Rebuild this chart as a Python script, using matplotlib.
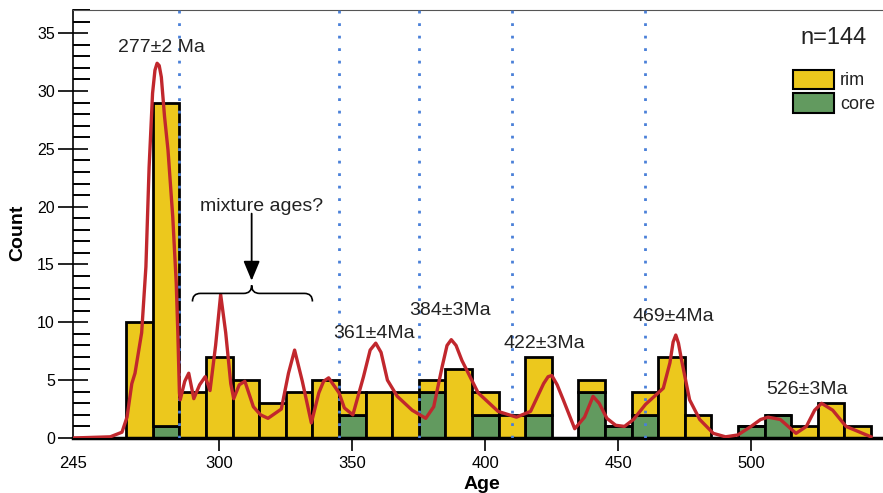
import matplotlib
matplotlib.use('Agg')
import matplotlib.pyplot as plt
from matplotlib.patches import Rectangle, PathPatch
from matplotlib.path import Path
from matplotlib.ticker import MultipleLocator

plt.rcParams['font.family'] = ['Liberation Sans', 'DejaVu Sans']

# histogram bins (10 Ma wide), counts
bin_left = [265, 275, 285, 295, 305, 315, 325, 335, 345, 355, 365, 375, 385, 395,
            405, 415, 425, 435, 445, 455, 465, 475, 485, 495, 505, 515, 525, 535]
total = [10, 29, 4, 7, 5, 3, 4, 5, 4, 4, 4, 5, 6, 4,
         2, 7, 0, 5, 1, 4, 7, 2, 0, 1, 2, 1, 3, 1]
core = [0, 1, 0, 0, 0, 0, 0, 0, 2, 0, 0, 4, 0, 2,
        0, 2, 0, 4, 1, 2, 0, 0, 0, 1, 2, 0, 0, 0]
rim = [t - c for t, c in zip(total, core)]

# probability density curve (scaled to counts)
kde_x = [245, 259, 263.4, 265.3, 267.1, 268.3, 270.8, 272.4, 273.6, 274.9, 275.8, 276.6,
         277.4, 278.2, 279.4, 280.7, 282.5, 283.8, 284.4, 285.0, 285.3, 287.0, 288.5,
         290.4, 292.6, 294.7, 296.5, 298.6, 300.5, 302.4, 304.3, 305.4, 307.5, 309.6,
         312.8, 315.5, 318.3, 323.3, 326.0, 328.3, 331.2, 334.6, 337.4, 339.2, 341.1,
         345.0, 347.0, 350.2, 354.2, 356.7, 358.8, 360.8, 363.2, 366.9, 372.5, 377.6,
         380.6, 383.8, 385.6, 387.2, 389.0, 391.2, 397.3, 404.8, 411.7, 417.0, 421.9,
         423.6, 425.0, 427.0, 429.3, 433.6, 437.3, 440.5, 442.8, 445.7, 449.0, 452.3,
         455.7, 460.2, 466.9, 469.4, 470.6, 471.6, 472.6, 473.8, 476.8, 480.6, 485.7,
         490.3, 494.9, 499.9, 503.5, 506.3, 510.9, 516.8, 520.7, 523.8, 526.4, 530.6,
         535.6, 543.3, 545.0]
kde_y = [0.0, 0.1, 0.5, 1.8, 4.7, 5.6, 9.1, 14.8, 23.4, 29.8, 31.8, 32.4,
         32.2, 31.2, 27.8, 24.9, 19.1, 13.4, 9.1, 3.9, 3.3, 4.9, 5.6,
         3.4, 4.6, 5.3, 4.1, 8.0, 12.4, 9.1, 4.7, 3.4, 4.6, 4.9,
         2.7, 2.0, 1.7, 2.5, 5.6, 7.6, 4.9, 1.3, 3.9, 4.9, 5.2,
         3.9, 2.6, 2.0, 5.3, 7.6, 8.2, 7.4, 5.0, 3.6, 2.4, 1.7,
         2.7, 6.2, 8.0, 8.5, 8.0, 6.7, 3.9, 2.3, 1.8, 2.3, 4.7,
         5.3, 5.4, 4.6, 3.3, 0.8, 1.8, 3.6, 3.0, 1.7, 1.1, 1.0,
         1.6, 2.9, 4.3, 6.5, 8.3, 8.9, 8.2, 6.7, 3.3, 1.6, 0.4,
         0.1, 0.26, 1.0, 1.6, 1.8, 1.6, 0.4, 1.0, 2.4, 3.0, 2.4,
         1.0, 0.26, 0.1]

peak_lines = [285, 345, 375, 410, 460]
peak_labels = ['277\u00b12 Ma', '361\u00b14Ma', '384\u00b13Ma', '422\u00b13Ma', '469\u00b14Ma', '526\u00b13Ma']
label_x = [278.1, 358.2, 386.8, 422.1, 470.5, 520.8]
label_y = [33.8, 9.05, 11.0, 8.2, 10.5, 4.2]

yellow = '#ecc81d'
green = '#629a5f'
blue = '#4a80d8'
red = '#c1272d'


def draw_brace(ax, x0, x1, y, d):
    xm = (x0 + x1) / 2 - 0.3
    r = 3.0
    verts = [(x0, y - d), (x0, y), (x0 + r, y), (xm - r, y), (xm, y), (xm, y + d),
             (xm, y), (xm + r, y), (x1 - r, y), (x1, y), (x1, y - d)]
    codes = [Path.MOVETO, Path.CURVE3, Path.CURVE3, Path.LINETO, Path.CURVE3, Path.CURVE3,
             Path.CURVE3, Path.CURVE3, Path.LINETO, Path.CURVE3, Path.CURVE3]
    ax.add_patch(PathPatch(Path(verts, codes), fill=False, lw=1.2, color='black', zorder=5))
    return xm


fig = plt.figure(figsize=(8.83, 4.93), dpi=100)
ax = fig.add_axes([0.0827, 0.1116, 0.9173, 0.868])

ax.bar(bin_left, core, width=10, align='edge', color=green, edgecolor='black', lw=2, zorder=2)
ax.bar(bin_left, rim, bottom=core, width=10, align='edge', color=yellow, edgecolor='black', lw=2, zorder=2)

for x in peak_lines:
    ax.axvline(x, color=blue, lw=2, ls=(0, (1, 3.5)), zorder=3)

ax.plot(kde_x, kde_y, color=red, lw=2.4, zorder=4, solid_joinstyle='round')

for s, x, y in zip(peak_labels, label_x, label_y):
    ax.text(x, y, s, ha='center', va='center', fontsize=14, color='#222222', zorder=6)

# mixture ages annotation
xm = draw_brace(ax, 289.9, 335.0, 12.5, 0.7)
ax.annotate('', xy=(xm, 13.6), xytext=(xm, 19.4),
            arrowprops=dict(arrowstyle='-|>,head_length=0.6,head_width=0.25', color='black',
                            lw=1.3, mutation_scale=20, shrinkA=0, shrinkB=0), zorder=6)
ax.text(315.9, 20.05, 'mixture ages?', ha='center', va='center', fontsize=14, color='#222222')

ax.set_xlim(245, 549.5)
ax.set_ylim(0, 37)
ax.set_xticks([245, 300, 350, 400, 450, 500])
ax.set_yticks(range(0, 36, 5))
ax.yaxis.set_minor_locator(MultipleLocator(1))
ax.tick_params(axis='y', which='major', direction='inout', length=22, width=1.2, labelsize=11.5, pad=2)
ax.tick_params(axis='y', which='minor', direction='in', length=12, width=1.4)
ax.tick_params(axis='x', which='major', direction='out', length=9, width=1.2, labelsize=12, pad=4)
ax.xaxis.get_major_ticks()[0].tick1line.set_visible(False)

ax.spines['right'].set_visible(False)
ax.spines['top'].set_color('#555555')
ax.spines['top'].set_linewidth(0.8)
ax.spines['left'].set_linewidth(1.2)
ax.spines['bottom'].set_linewidth(2.5)

ax.set_xlabel('Age', fontsize=14, fontweight='bold')
ax.set_ylabel('Count', fontsize=14, fontweight='bold')
ax.xaxis.set_label_coords(0.505, -0.09)
ax.yaxis.set_label_coords(-0.058, 0.479)

# n and legend
fig.text(0.944, 0.9223, 'n=144', fontsize=17, ha='center', va='center', color='#222222')
fig.patches.append(Rectangle((0.8977, 0.8189), 0.0468, 0.0391, transform=fig.transFigure,
                             facecolor=yellow, edgecolor='black', lw=1.5, figure=fig))
fig.patches.append(Rectangle((0.8977, 0.7702), 0.0468, 0.0406, transform=fig.transFigure,
                             facecolor=green, edgecolor='black', lw=1.5, figure=fig))
fig.text(0.9513, 0.8377, 'rim', fontsize=13, ha='left', va='center', color='#222222')
fig.text(0.9513, 0.789, 'core', fontsize=13, ha='left', va='center', color='#222222')

fig.savefig('out.png', dpi=100)
